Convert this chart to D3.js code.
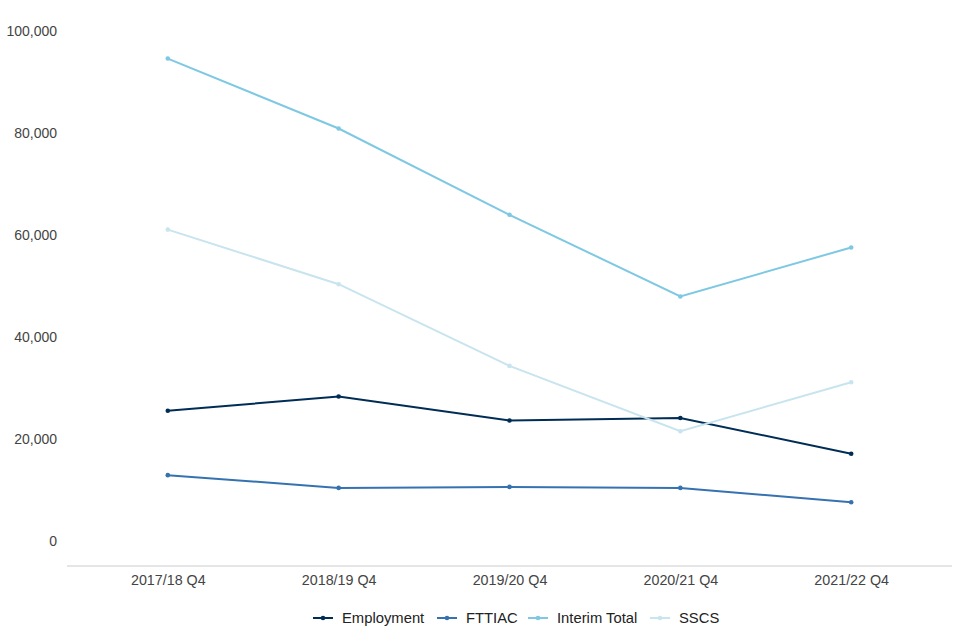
<!DOCTYPE html>
<html><head><meta charset="utf-8">
<script src="https://cdn.jsdelivr.net/npm/d3@7"></script>
<style>body{margin:0;background:#fff}svg{display:block;font-family:"Liberation Sans",Arial,sans-serif}</style>
</head><body><svg id="c" width="960" height="640"></svg>
<script>
const categories = ["2017/18 Q4","2018/19 Q4","2019/20 Q4","2020/21 Q4","2021/22 Q4"];
const employment = [25600, 28400, 23700, 24200, 17200];
const fttiac = [13000, 10500, 10700, 10500, 7700];
const interimTotal = [94600, 80900, 64000, 48000, 57600];
const sscs = [61100, 50400, 34400, 21600, 31200];
const yTicks = [0, 20000, 40000, 60000, 80000, 100000];
const seriesNames = ["Employment","FTTIAC","Interim Total","SSCS"];
const seriesColors = ["#002d55","#3672b0","#7ec8e3","#c8e4ee"];
const seriesData = [employment, fttiac, interimTotal, sscs];

const svg = d3.select("#c");
const x = d3.scalePoint().domain(categories).range([67, 952]).padding(0.59);
const y = d3.scaleLinear().domain([0, 100000]).range([541.5, 31]);

// x axis
const xg = svg.append("g").attr("transform","translate(0,566)")
  .call(d3.axisBottom(x).tickSize(0).tickPadding(9).tickSizeOuter(0));
xg.select(".domain").attr("stroke","#cccccc").attr("d","M67,0H952");
xg.selectAll("text").attr("fill","#444").style("font-size","14.3px").style("font-family","Liberation Sans, Arial, sans-serif");

// y axis
const yg = svg.append("g").attr("transform","translate(67,0)")
  .call(d3.axisLeft(y).tickValues(yTicks).tickSize(0).tickPadding(10).tickFormat(d3.format(",")));
yg.select(".domain").remove();
yg.selectAll("text").attr("fill","#444").style("font-size","14px").style("font-family","Liberation Sans, Arial, sans-serif");

const line = d3.line().x((d,i)=>x(categories[i])).y(d=>y(d));
seriesData.forEach((vals, si) => {
  const g = svg.append("g");
  g.append("path").datum(vals).attr("d", line).attr("fill","none")
    .attr("stroke", seriesColors[si]).attr("stroke-width", 2);
  g.selectAll("circle").data(vals).join("circle")
    .attr("cx",(d,i)=>x(categories[i])).attr("cy",d=>y(d)).attr("r",2.3)
    .attr("fill", seriesColors[si]);
});

// legend
const legendX = [313, 437, 528, 650];
const lg = svg.append("g").attr("transform","translate(0,618)");
seriesNames.forEach((n, i) => {
  const g = lg.append("g").attr("transform", `translate(${legendX[i]},0)`);
  g.append("line").attr("x1",0).attr("x2",20).attr("y1",0).attr("y2",0)
    .attr("stroke", seriesColors[i]).attr("stroke-width",2);
  g.append("circle").attr("cx",10).attr("cy",0).attr("r",2.3).attr("fill",seriesColors[i]);
  g.append("text").attr("x",29).attr("y",0).attr("dy","0.35em")
    .attr("fill","#222").style("font-size","14.8px").text(n);
});
</script></body></html>
